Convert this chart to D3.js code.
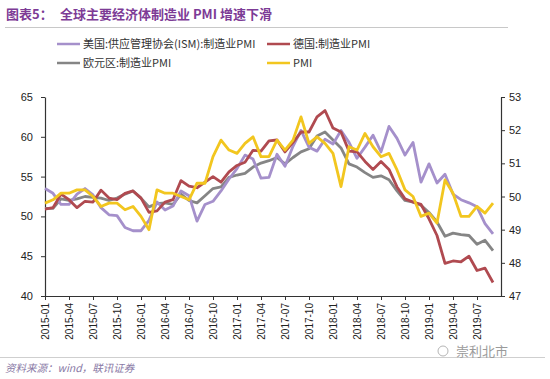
<!DOCTYPE html>
<html>
<head>
<meta charset="utf-8">
<script src="https://cdn.jsdelivr.net/npm/d3@7"></script>
<style>
  body { margin: 0; background: #fff; }
  svg { display: block; font-family: "Noto Sans CJK SC", "Liberation Sans", sans-serif; }
</style>
</head>
<body>
<div id="chart"></div>
<script>
// monthly, 2015-01 .. 2019-09
var months = [];
for (var yr = 2015; yr <= 2019; yr++) {
  for (var m = 1; m <= 12; m++) {
    if (yr === 2019 && m > 9) break;
    months.push(yr + "-" + (m < 10 ? "0" + m : m));
  }
}

var usISM = [53.5,52.9,51.5,51.5,52.8,53.5,52.7,51.1,50.2,50.1,48.6,48.2,
  48.2,49.5,51.8,50.8,51.3,53.2,52.6,49.4,51.5,51.9,53.2,54.7,
  56.0,57.7,57.2,54.8,54.9,57.8,56.3,58.8,60.8,58.7,58.2,59.7,
  59.1,60.8,59.3,57.3,58.7,60.2,58.1,61.3,59.8,57.7,59.3,54.3,
  56.6,54.2,55.3,52.8,52.1,51.7,51.2,49.1,47.8];

var germany = [50.9,51.1,52.8,52.1,51.1,51.9,51.8,53.3,52.3,52.1,52.9,53.2,
  52.3,50.5,50.7,51.8,52.1,54.5,53.8,53.6,54.3,55.0,54.3,55.6,
  56.4,56.8,58.3,58.2,59.5,59.6,58.1,59.3,60.6,60.6,62.5,63.3,
  61.1,60.6,58.2,58.1,56.9,55.9,56.9,55.9,53.7,52.2,51.8,51.5,
  49.7,47.6,44.1,44.4,44.3,45.0,43.2,43.5,41.7];

var euroArea = [51.0,51.0,52.2,52.0,52.2,52.5,52.4,52.3,52.0,52.3,52.8,53.2,
  52.3,51.2,51.6,51.7,51.5,52.8,52.0,51.7,52.6,53.5,53.7,54.9,
  55.2,55.4,56.2,56.7,57.0,57.4,56.6,57.4,58.1,58.5,60.1,60.6,
  59.6,58.6,56.6,56.2,55.5,54.9,55.1,54.6,53.2,52.0,51.8,51.4,
  50.5,49.3,47.5,47.9,47.7,47.6,46.5,47.0,45.7];

// China PMI, right axis
var chinaPMI = [49.8,49.9,50.1,50.1,50.2,50.2,50.0,49.7,49.8,49.8,49.6,49.7,
  49.4,49.0,50.2,50.1,50.1,50.0,49.9,50.4,50.4,51.2,51.7,51.4,
  51.3,51.6,51.8,51.2,51.2,51.7,51.4,51.7,52.4,51.6,51.8,51.6,
  51.3,50.3,51.5,51.4,51.9,51.5,51.2,51.3,50.8,50.2,50.0,49.4,
  49.5,49.2,50.5,50.1,49.4,49.4,49.7,49.5,49.8];

var leftTicks = [40, 45, 50, 55, 60, 65];
var rightTicks = [47, 48, 49, 50, 51, 52, 53];

var seriesNames = ["美国:供应管理协会(ISM):制造业PMI", "德国:制造业PMI", "欧元区:制造业PMI", "PMI"];
var colors = ["#a590cb", "#b04a50", "#858585", "#f2c61f"];

var W = 550, H = 379;
var svg = d3.select("#chart").append("svg").attr("width", W).attr("height", H);

// title
var title = svg.append("text").attr("x", 6).attr("y", 19)
  .attr("fill", "#7d3b96").attr("font-size", 13).attr("font-weight", "bold");
title.append("tspan").text("图表5：");
title.append("tspan").attr("x", 60).text("全球主要经济体制造业 PMI 增速下滑");
svg.append("line").attr("x1", 5).attr("x2", 508).attr("y1", 27.5).attr("y2", 27.5)
  .attr("stroke", "#c8c8c8").attr("stroke-width", 1);

// legend
var legendPos = [[57, 44], [267, 44], [57, 63], [267, 63]];
seriesNames.forEach(function(name, i) {
  var p = legendPos[i];
  svg.append("line").attr("x1", p[0]).attr("x2", p[0] + 23).attr("y1", p[1]).attr("y2", p[1])
    .attr("stroke", colors[i]).attr("stroke-width", 2.5);
  svg.append("text").attr("x", p[0] + 26).attr("y", p[1] + 4)
    .attr("font-size", 11).attr("fill", "#333").text(name);
});

// scales
var x = d3.scaleLinear().domain([0, 57]).range([45, 501]);
var yL = d3.scaleLinear().domain([40, 65]).range([296, 97]);
var yR = d3.scaleLinear().domain([47, 53]).range([296, 97]);

var tickIdx = d3.range(0, months.length, 3);

var xAxis = svg.append("g").attr("transform", "translate(0,296)")
  .call(d3.axisBottom(x).tickValues(tickIdx).tickSize(4).tickSizeOuter(0)
    .tickFormat(function(i) { return months[i]; }));
xAxis.selectAll("text").attr("transform", "rotate(-90)")
  .attr("x", -7).attr("y", 0).attr("dy", "0.35em")
  .style("text-anchor", "end").attr("font-size", 10).attr("fill", "#222")
  .attr("font-family", "Liberation Sans, sans-serif");

var leftAxis = svg.append("g").attr("transform", "translate(45,0)")
  .call(d3.axisLeft(yL).tickValues(leftTicks).tickSize(4).tickSizeOuter(0));
leftAxis.selectAll("text").attr("font-size", 11).attr("fill", "#222")
  .attr("font-family", "Liberation Sans, sans-serif").attr("x", -12);

var rightAxis = svg.append("g").attr("transform", "translate(501,0)")
  .call(d3.axisRight(yR).tickValues(rightTicks).tickFormat(d3.format("d"))
    .tickSize(4).tickSizeOuter(0));
rightAxis.selectAll("text").attr("font-size", 11).attr("fill", "#222")
  .attr("font-family", "Liberation Sans, sans-serif").attr("x", 8);

svg.selectAll(".domain").attr("stroke", "#333").attr("stroke-width", 1.2);
svg.selectAll(".tick line").attr("stroke", "#333");

// lines
var series = [[usISM, yL], [germany, yL], [euroArea, yL], [chinaPMI, yR]];
var drawOrder = [2, 0, 1, 3];
drawOrder.forEach(function(k) {
  var vals = series[k][0], ys = series[k][1];
  svg.append("path").datum(vals)
    .attr("fill", "none").attr("stroke", colors[k]).attr("stroke-width", 2.8)
    .attr("stroke-linejoin", "round")
    .attr("d", d3.line().x(function(d, i) { return x(i); }).y(function(d) { return ys(d); }));
});

// footer
svg.append("line").attr("x1", 0).attr("x2", 545).attr("y1", 357.5).attr("y2", 357.5)
  .attr("stroke", "#cfcfcf").attr("stroke-width", 1);
svg.append("text").attr("x", 5).attr("y", 372).attr("font-size", 10.5)
  .attr("font-style", "italic").attr("fill", "#8a7aa6")
  .text("资料来源：wind，联讯证券");

// watermark
svg.append("circle").attr("cx", 443).attr("cy", 351).attr("r", 5)
  .attr("fill", "none").attr("stroke", "#b5b5b5").attr("stroke-width", 1);
svg.append("text").attr("x", 456).attr("y", 356).attr("font-size", 13)
  .attr("fill", "#9a9a9a").text("崇利北市");
</script>
</body>
</html>
